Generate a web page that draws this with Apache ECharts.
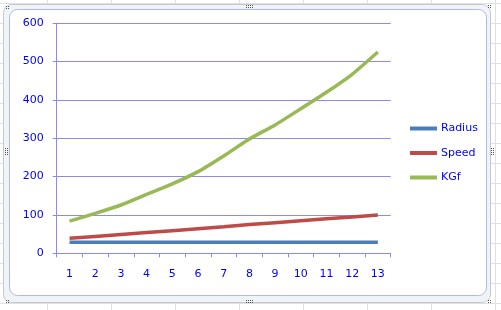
<!DOCTYPE html>
<html>
<head>
<meta charset="utf-8">
<script src="https://cdn.jsdelivr.net/npm/echarts@6/dist/echarts.min.js"></script>
<style>
html,body{margin:0;padding:0;background:#ffffff;}
#c{width:501px;height:310px;}
</style>
</head>
<body>
<div id="c"></div>
<script>
const categories = ['1','2','3','4','5','6','7','8','9','10','11','12','13'];
const radius = [29,29,29,29,29,29,29,29,29,29,29,29,29];
const speed = [39,44,49,54,59,64,69,75,80,85,90,95,100];
const kgf = [84,104,126,154,181,213,254,298,335,377,420,467,525];
const yTicks = [0,100,200,300,400,500,600];

const chart = echarts.init(document.getElementById('c'), null, {renderer:'canvas'});
const axisColor = '#8a8af2';
const textColor = '#0000ff';
const font = 'DejaVu Sans';

// decorative spreadsheet grid and chart frame
const deco = [];
[47.5,111.5,175.5,239.5,303.5,367.5,431.5,495.5].forEach(x=>{
  deco.push({type:'line',z:-10,shape:{x1:x,y1:0,x2:x,y2:310},style:{stroke:'#dfe1e4',lineWidth:1}});
});
[3.5,23.5,43.5,63.5,83.5,103.5,123.5,143.5,163.5,183.5,203.5,223.5,243.5,263.5,283.5,303.5].forEach(y=>{
  deco.push({type:'line',z:-10,shape:{x1:0,y1:y,x2:501,y2:y},style:{stroke:'#dfe1e4',lineWidth:1}});
});
deco.push({type:'rect',z:-5,shape:{x:3.5,y:4.5,width:487,height:298,r:8},style:{fill:'#f1f4f7',stroke:'#c3c9d1',lineWidth:1}});
deco.push({type:'rect',z:-4,shape:{x:9.5,y:9.5,width:477,height:286,r:8},style:{fill:'#ffffff',stroke:'#b4b8e6',lineWidth:1}});
// handle dots
function dots(x,y){
  for(let i=0;i<2;i++){for(let j=0;j<2;j++){
    deco.push({type:'rect',z:-3,shape:{x:x+i*2,y:y+j*2,width:1,height:1},style:{fill:'#555'}});
  }}
}
dots(6,6);dots(488,5);dots(6,300);dots(488,300);
[[246,5],[250,5]].forEach(p=>dots(p[0],p[1]));
[[246,300],[250,300]].forEach(p=>dots(p[0],p[1]));
[[5,148],[5,152]].forEach(p=>dots(p[0],p[1]));
[[491,148],[491,152]].forEach(p=>dots(p[0],p[1]));

chart.setOption({
  animation:false,
  backgroundColor:'transparent',
  graphic: deco,
  color:['#4a7ebb','#be4b48','#98b954'],
  grid:{left:56.7,right:110.3,top:23.3,bottom:56.7,containLabel:false},
  legend:{
    orient:'vertical',left:410,top:123,padding:0,
    itemWidth:27,itemHeight:4,itemGap:13.5,icon:'rect',
    textStyle:{color:textColor,fontFamily:font,fontSize:11,padding:[0,0,0,-1]},
    data:['Radius','Speed','KGf']
  },
  xAxis:{
    type:'category',data:categories,boundaryGap:true,
    axisLine:{lineStyle:{color:axisColor,width:1}},
    axisTick:{show:true,length:4,lineStyle:{color:axisColor}},
    axisLabel:{color:textColor,fontFamily:font,fontSize:11,margin:15,interval:0},
    splitLine:{show:false}
  },
  yAxis:{
    type:'value',min:yTicks[0],max:yTicks[yTicks.length-1],interval:100,
    axisLine:{show:true,lineStyle:{color:axisColor,width:1}},
    axisTick:{show:true,length:4,lineStyle:{color:axisColor}},
    axisLabel:{color:textColor,fontFamily:font,fontSize:11,margin:13},
    splitLine:{show:true,lineStyle:{color:axisColor,width:1}}
  },
  series:[
    {name:'Radius',type:'line',data:radius,showSymbol:false,symbol:'none',lineStyle:{width:3.5}},
    {name:'Speed',type:'line',data:speed,showSymbol:false,symbol:'none',lineStyle:{width:3.5}},
    {name:'KGf',type:'line',data:kgf,showSymbol:false,symbol:'none',smooth:0.2,lineStyle:{width:3.5}}
  ]
});
</script>
</body>
</html>
